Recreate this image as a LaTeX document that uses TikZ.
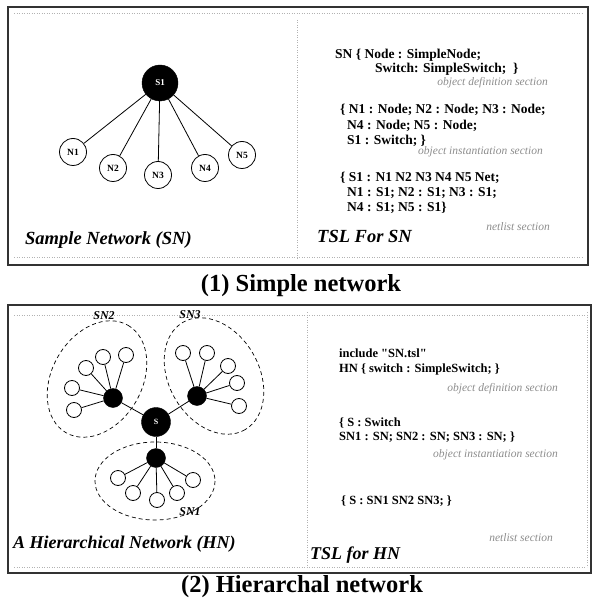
\documentclass[tikz,border=0pt]{standalone}
\usepackage{fontspec}
\setmainfont{Liberation Serif}[Ligatures=TeXOff]
\newcommand\setfs[1]{\fontsize{#1}{#1}\selectfont}
\begin{document}
\begin{tikzpicture}[x=1pt,y=-1pt,
  frame/.style={draw=black!80, line width=1.3pt},
  guide/.style={draw=black!30, line width=0.5pt, dotted},
  link/.style={draw=black, line width=0.8pt},
  grp/.style={draw=black, line width=0.7pt, dash pattern=on 4pt off 3pt},
  swbig/.style={circle, fill=black, draw=black, text=white, inner sep=0pt, font=\setfs{9}\bfseries},
  hub/.style={circle, fill=black, draw=black, minimum size=19pt, inner sep=0pt},
  nodeN/.style={circle, draw=black, fill=white, line width=0.8pt, minimum size=27pt, inner sep=0pt, font=\setfs{9.5}\bfseries},
  leaf/.style={circle, draw=black, fill=white, line width=0.8pt, minimum size=15pt, inner sep=0pt},
  code/.style={anchor=base west, inner sep=0pt, font=\setfs{13.5}\bfseries},
  codeb/.style={anchor=base west, inner sep=0pt, font=\setfs{12.5}\bfseries},
  note/.style={anchor=base east, inner sep=0pt, text=black!45, font=\setfs{11.5}\itshape},
  title/.style={anchor=base west, inner sep=0pt, font=\setfs{18.5}\bfseries\itshape},
  grplabel/.style={inner sep=0.5pt, font=\setfs{12}\bfseries\itshape},
  caption/.style={inner sep=0pt, font=\setfs{24.5}\bfseries}]
\useasboundingbox (0,0) rectangle (593,601);

% ---------- panel (1): simple network ----------
\draw[frame] (8,7) rectangle (588,265);
\draw[guide] (14,13) -- (582,13);
\draw[guide] (14,257) -- (582,257);
\draw[guide] (297,20) -- (297,258);

\node[swbig, minimum size=36pt] (s1) at (160,83) {S1};
\node[nodeN] (n1) at (73,152) {N1};
\node[nodeN] (n2) at (113,168) {N2};
\node[nodeN] (n3) at (158,175) {N3};
\node[nodeN] (n4) at (205,168) {N4};
\node[nodeN] (n5) at (242,155) {N5};
\foreach \n in {n1,n2,n3,n4,n5} \draw[link] (s1) -- (\n);

\node[title] (t1) at (25,244) {Sample Network (SN)};

\node[code] (c1) at (335,59) {SN \{ Node : SimpleNode;};
\node[code] (c2) at (375,73) {Switch: SimpleSwitch;\ \ \}};
\node[note] (d1) at (548,86) {object definition section};
\node[code] (c3) at (340,114) {\{ N1 : Node; N2 : Node; N3 : Node;};
\node[code] (c4) at (347,130) {N4 : Node; N5 : Node;};
\node[code] (c5) at (347,145) {S1 : Switch; \}};
\node[note] (d2) at (543,155) {object instantiation section};
\node[code] (c6) at (340,182) {\{ S1 : N1 N2 N3 N4 N5 Net;};
\node[code] (c7) at (347,197) {N1 : S1; N2 : S1; N3 : S1;};
\node[code] (c8) at (347,212) {N4 : S1; N5 : S1\}};
\node[note] (d3) at (550,230) {netlist section};
\node[title] (t2) at (317,243) {TSL For SN};

\node[caption] (cap1) at (301,286) {(1) Simple network};

% ---------- panel (2): hierarchical network ----------
\draw[frame] (8,305) rectangle (591,573);
\draw[guide] (14,315) -- (585,315);
\draw[guide] (14,567) -- (585,567);
\draw[guide] (307,312) -- (307,567);
\draw[guide] (587,312) -- (587,567);

% subnetwork groups
\draw[grp, rotate around={60:(97,379)}] (97,379) ellipse [x radius=62, y radius=45];
\draw[grp, rotate around={-60:(214,376)}] (214,376) ellipse [x radius=62, y radius=45];
\draw[grp] (155,481) ellipse [x radius=60, y radius=39];

\node[swbig, minimum size=29pt, font=\setfs{8}\bfseries] (S) at (156,422) {S};
\node[hub] (h1) at (156,458) {};
\node[hub] (h2) at (113,398) {};
\node[hub] (h3) at (197,396) {};
\foreach \h in {h1,h2,h3} \draw[link] (S) -- (\h);

% SN1 leaves
\node[leaf] (a1) at (118,478) {};
\node[leaf] (a2) at (133,493) {};
\node[leaf] (a3) at (157,500) {};
\node[leaf] (a4) at (177,493) {};
\node[leaf] (a5) at (193,480) {};
% SN2 leaves
\node[leaf] (b1) at (74,410) {};
\node[leaf] (b2) at (72,388) {};
\node[leaf] (b3) at (86,368) {};
\node[leaf] (b4) at (103,357) {};
\node[leaf] (b5) at (126,355) {};
% SN3 leaves
\node[leaf] (e1) at (183,353) {};
\node[leaf] (e2) at (207,353) {};
\node[leaf] (e3) at (228,366) {};
\node[leaf] (e4) at (237,383) {};
\node[leaf] (e5) at (239,406) {};
\foreach \l in {a1,a2,a3,a4,a5} \draw[link] (h1) -- (\l);
\foreach \l in {b1,b2,b3,b4,b5} \draw[link] (h2) -- (\l);
\foreach \l in {e1,e2,e3,e4,e5} \draw[link] (h3) -- (\l);

\node[grplabel] (g2) at (104,316) {SN2};
\node[grplabel] (g3) at (190,315) {SN3};
\node[grplabel] (g1) at (190,512) {SN1};

\node[title, font=\setfs{18}\bfseries\itshape] (t3) at (13,548) {A Hierarchical Network (HN)};

\node[codeb] (k1) at (339,357) {include "SN.tsl"};
\node[codeb] (k2) at (339,372) {HN \{ switch : SimpleSwitch; \}};
\node[note] (f1) at (558,391) {object definition section};
\node[codeb] (k3) at (339,426) {\{ S : Switch};
\node[codeb] (k4) at (339,440) {SN1 : SN; SN2 : SN; SN3 : SN; \}};
\node[note] (f2) at (558,457) {object instantiation section};
\node[codeb] (k5) at (341,504) {\{ S : SN1 SN2 SN3; \}};
\node[note] (f3) at (553,541) {netlist section};
\node[title, font=\setfs{18}\bfseries\itshape] (t4) at (310,559) {TSL for HN};

\node[caption] (cap2) at (302,587) {(2) Hierarchal network};
\end{tikzpicture}
\end{document}
